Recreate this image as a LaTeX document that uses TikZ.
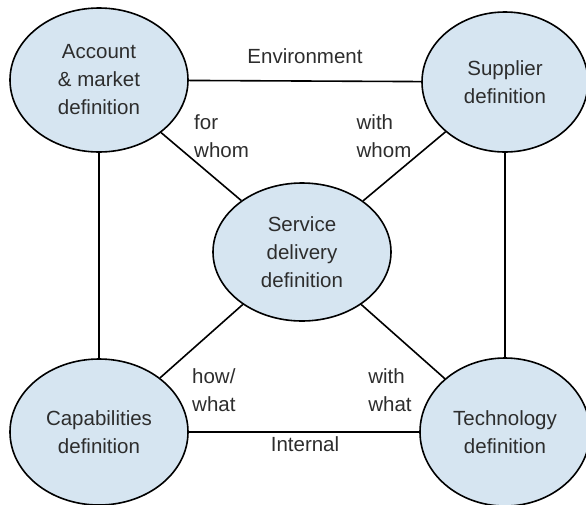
\documentclass[tikz,border=0pt]{standalone}
\usepackage{fontspec}
\setmainfont{Liberation Sans}
\usetikzlibrary{shapes.geometric}
\definecolor{bubble}{RGB}{214,229,241}
\definecolor{ink}{RGB}{45,45,45}
\tikzset{
  area/.style={ellipse, draw=black, line width=1.6pt, fill=bubble, text=ink, align=center, inner sep=0pt},
  link/.style={draw=black, line width=1.6pt},
  tag/.style={text=ink, align=left, inner sep=0pt}
}
\begin{document}
\begin{tikzpicture}[x=1pt, y=-1pt, font=\fontsize{20.5}{28}\selectfont]
  \useasboundingbox (0, 0) rectangle (586, 504);
  \clip (0, 0) rectangle (586, 504);
  % the five areas
  \node[area, minimum width=178, minimum height=144] (acc) at (99, 80) {Account\\\& market\\definition};
  \node[area, minimum width=166, minimum height=140] (sup) at (505, 82) {Supplier\\definition};
  \node[area, minimum width=178, minimum height=138] (srv) at (302, 252) {Service\\delivery\\definition};
  \node[area, minimum width=178, minimum height=146] (cap) at (99, 432) {Capabilities\\definition};
  \node[area, minimum width=170, minimum height=148] (tec) at (505, 432) {Technology\\definition};

  % links
  \draw[link] (acc) -- (sup);
  \draw[link] (cap) -- (tec);
  \draw[link] (acc) -- (cap);
  \draw[link] (sup) -- (tec);
  \draw[link] (acc) -- (srv);
  \draw[link] (sup) -- (srv);
  \draw[link] (cap) -- (srv);
  \draw[link] (tec) -- (srv);

  % labels
  \node[tag] (env) at (305, 56) {Environment};
  \node[tag] (int) at (305, 444) {Internal};
  \node[tag, anchor=west] (forwhom) at (194, 136) {for\\whom};
  \node[tag] (withwhom) at (384, 136) {with\\whom};
  \node[tag, anchor=west] (howwhat) at (192, 390) {how/\\what};
  \node[tag] (withwhat) at (390, 390) {with\\what};
\end{tikzpicture}
\end{document}
